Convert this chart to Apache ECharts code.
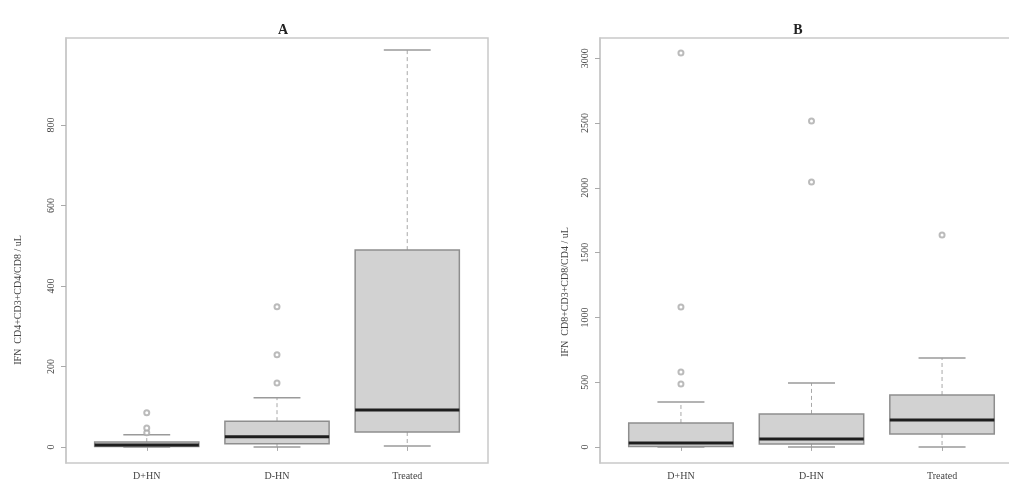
<!DOCTYPE html>
<html>
<head>
<meta charset="utf-8">
<script src="https://cdn.jsdelivr.net/npm/echarts@6/dist/echarts.min.js"></script>
<style>
  html, body { margin: 0; padding: 0; background: #fff; }
  #chart { width: 1009px; height: 486px; }
</style>
</head>
<body>
<div id="chart"></div>
<script>
// Group names on the horizontal axis (positions 1, 2, 3)
const groups = ['D+HN', 'D-HN', 'Treated'];

// Panel A: [min whisker, Q1, median, Q3, max whisker] per group
const boxA = [
  [0, 1, 5, 12, 30],
  [0, 8, 25, 64, 122],
  [2, 37, 92, 489, 986]
];
// Panel A outliers: [group position, value]
const outA = [[1, 35], [1, 47], [1, 85], [2, 159], [2, 229], [2, 348]];

// Panel B: [min whisker, Q1, median, Q3, max whisker] per group
const boxB = [
  [0, 4, 31, 185, 347],
  [0, 23, 62, 255, 494],
  [0, 100, 208, 401, 687]
];
// Panel B outliers: [group position, value]
const outB = [[1, 486], [1, 579], [1, 1081], [1, 3042], [2, 2046], [2, 2517], [3, 1637]];

// Tick values on the vertical axes
const ticksA = [0, 200, 400, 600, 800];
const ticksB = [0, 500, 1000, 1500, 2000, 2500, 3000];

const titleA = 'IFN  CD4+CD3+CD4/CD8 / uL';
const titleB = 'IFN  CD8+CD3+CD8/CD4 / uL';

const FONT = '"Liberation Serif", "DejaVu Serif", serif';
const frameColor = '#c9c9c9';

function boxRows(stats) {
  return stats.map((s, i) => [i + 1].concat(s));
}

function renderBox(params, api) {
  const x = api.value(0);
  const lo = api.coord([x, api.value(1)]);
  const q1 = api.coord([x, api.value(2)]);
  const md = api.coord([x, api.value(3)]);
  const q3 = api.coord([x, api.value(4)]);
  const hi = api.coord([x, api.value(5)]);
  const w = api.size([0.8, 0])[0];
  const cap = w * 0.45;
  const cx = lo[0];
  const whisker = { stroke: '#a8a8a8', lineWidth: 1, lineDash: [4, 3] };
  const capStyle = { stroke: '#9a9a9a', lineWidth: 1.5 };
  return {
    type: 'group',
    children: [
      { type: 'line', shape: { x1: cx, y1: q3[1], x2: cx, y2: hi[1] }, style: whisker },
      { type: 'line', shape: { x1: cx, y1: q1[1], x2: cx, y2: lo[1] }, style: whisker },
      { type: 'line', shape: { x1: cx - cap / 2, y1: hi[1], x2: cx + cap / 2, y2: hi[1] }, style: capStyle },
      { type: 'line', shape: { x1: cx - cap / 2, y1: lo[1], x2: cx + cap / 2, y2: lo[1] }, style: capStyle },
      {
        type: 'rect',
        shape: { x: cx - w / 2, y: q3[1], width: w, height: q1[1] - q3[1] },
        style: { fill: '#d2d2d2', stroke: '#8e8e8e', lineWidth: 1.5 }
      },
      {
        type: 'line',
        shape: { x1: cx - w / 2, y1: md[1], x2: cx + w / 2, y2: md[1] },
        style: { stroke: '#1e1e1e', lineWidth: 3 }
      }
    ]
  };
}

function xAxisFor(gridIndex) {
  return {
    type: 'value', gridIndex: gridIndex,
    min: 0.38, max: 3.62,
    splitLine: { show: false },
    axisLine: { show: false },
    axisTick: {
      show: true, customValues: [1, 2, 3], length: 4,
      lineStyle: { color: '#aaa' }
    },
    axisLabel: {
      customValues: [1, 2, 3],
      formatter: v => groups[Math.round(v) - 1] || '',
      fontFamily: FONT, fontSize: 10, color: '#444', margin: 8
    }
  };
}

function yAxisFor(gridIndex, min, max, ticks) {
  return {
    type: 'value', gridIndex: gridIndex,
    min: min, max: max,
    splitLine: { show: false },
    axisLine: { show: true, lineStyle: { color: frameColor, width: 1.5 } },
    axisTick: { show: true, customValues: ticks, length: 5, lineStyle: { color: '#aaa' } },
    axisLabel: {
      customValues: ticks, rotate: 90, margin: 10,
      formatter: v => String(v),
      fontFamily: FONT, fontSize: 10, color: '#444'
    }
  };
}

const chart = echarts.init(document.getElementById('chart'), null, { renderer: 'canvas' });

chart.setOption({
  animation: false,
  backgroundColor: '#fff',
  title: [
    { text: 'A', left: 278, top: 18, textAlign: 'center',
      textStyle: { fontFamily: FONT, fontSize: 14, fontWeight: 'bold', color: '#222' } },
    { text: 'B', left: 793, top: 18, textAlign: 'center',
      textStyle: { fontFamily: FONT, fontSize: 14, fontWeight: 'bold', color: '#222' } }
  ],
  grid: [
    { left: 66, top: 38, width: 422, height: 425, show: true, outerBoundsMode: 'none',
      borderColor: frameColor, borderWidth: 1.5, backgroundColor: 'transparent' },
    { left: 600, top: 38, width: 423, height: 425, show: true, outerBoundsMode: 'none',
      borderColor: frameColor, borderWidth: 1.5, backgroundColor: 'transparent' }
  ],
  xAxis: [xAxisFor(0), xAxisFor(1)],
  yAxis: [
    yAxisFor(0, -40, 1016, ticksA),
    yAxisFor(1, -124, 3157, ticksB)
  ],
  graphic: [
    { type: 'text', x: 18, y: 300, rotation: Math.PI / 2,
      style: { text: titleA, font: '10px ' + FONT, fill: '#444',
        textAlign: 'center', textVerticalAlign: 'middle' } },
    { type: 'text', x: 565, y: 292, rotation: Math.PI / 2,
      style: { text: titleB, font: '10px ' + FONT, fill: '#444',
        textAlign: 'center', textVerticalAlign: 'middle' } }
  ],
  series: [
    {
      type: 'custom', xAxisIndex: 0, yAxisIndex: 0,
      renderItem: renderBox, data: boxRows(boxA),
      encode: { x: 0, y: [1, 2, 3, 4, 5] }, z: 2
    },
    {
      type: 'scatter', xAxisIndex: 0, yAxisIndex: 0, data: outA,
      symbol: 'emptyCircle', symbolSize: 5,
      itemStyle: { color: '#aaa', borderColor: '#aaa', borderWidth: 1 }, z: 3
    },
    {
      type: 'custom', xAxisIndex: 1, yAxisIndex: 1,
      renderItem: renderBox, data: boxRows(boxB),
      encode: { x: 0, y: [1, 2, 3, 4, 5] }, z: 2
    },
    {
      type: 'scatter', xAxisIndex: 1, yAxisIndex: 1, data: outB,
      symbol: 'emptyCircle', symbolSize: 5,
      itemStyle: { color: '#aaa', borderColor: '#aaa', borderWidth: 1 }, z: 3
    }
  ]
});
</script>
</body>
</html>
